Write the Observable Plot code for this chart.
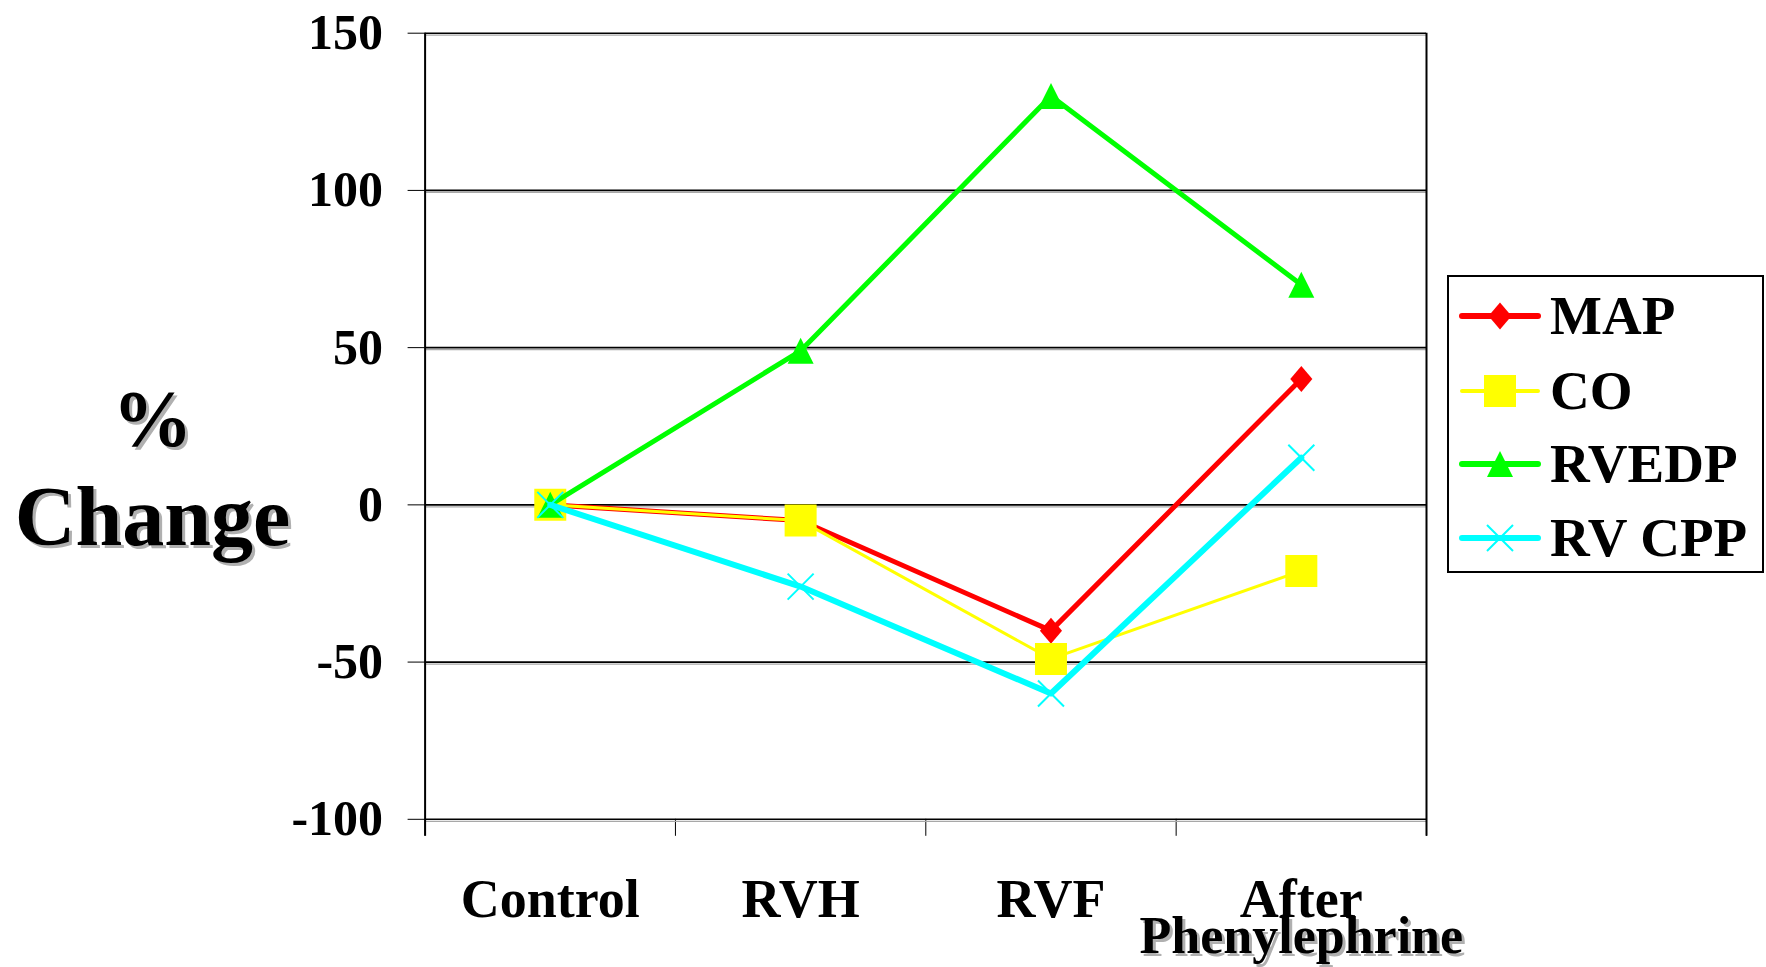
<!DOCTYPE html>
<html><head><meta charset="utf-8">
<script src="https://cdn.jsdelivr.net/npm/d3@7"></script>
<script src="https://cdn.jsdelivr.net/npm/@observablehq/plot@0.6"></script>
<style>
body{margin:0;background:#fff}
#wrap{position:relative;width:1766px;height:967px;overflow:hidden}
#legend{position:absolute;left:0;top:0}
</style>
</head><body><div id="wrap"></div>
<script>
// ---- data ----
const categories = ["Control", "RVH", "RVF", "After\nPhenylephrine"];
const seriesNames = ["MAP", "CO", "RVEDP", "RV CPP"];
const mapValues = [0, -5, -40, 40];
const coValues = [0, -5, -49, -21];
const rvedpValues = [0, 49, 130, 70];
const rvcppValues = [0, -26, -60, 15];
const yTickValues = [-100, -50, 0, 50, 100, 150];
const yLabelLines = ["%", "Change"];

// ---- styles ----
const seriesColors = ["#ff0000", "#ffff00", "#00ff00", "#00ffff"];
const lineWidths = [5, 3, 5, 6];
const FONT = "'Liberation Serif', 'Times New Roman', serif";

function rOf(size) { return Math.sqrt(size / Math.PI); }
const diamondSym = {draw(ctx, size) { const r = rOf(size), w = r * 0.85;
  ctx.moveTo(0, -r); ctx.lineTo(w, 0); ctx.lineTo(0, r); ctx.lineTo(-w, 0); ctx.closePath(); }};
const squareSym = {draw(ctx, size) { const r = rOf(size); ctx.rect(-r, -r, 2 * r, 2 * r); }};
const triSym = {draw(ctx, size) { const r = rOf(size);
  ctx.moveTo(0, -r); ctx.lineTo(r, r); ctx.lineTo(-r, r); ctx.closePath(); }};
const xSym = {draw(ctx, size) { const r = rOf(size);
  ctx.moveTo(-r, -r); ctx.lineTo(r, r); ctx.moveTo(r, -r); ctx.lineTo(-r, r); }};
const symbols = [diamondSym, squareSym, triSym, xSym];
const symR = [13, 16, 13, 13];
const symFilled = [true, true, true, false];

const seriesValues = [mapValues, coValues, rvedpValues, rvcppValues];
const rows = [];
seriesNames.forEach((s, k) => seriesValues[k].forEach((v, i) => rows.push({series: s, k, i, v})));

const W = 1766, H = 967;
const mL = 424.6, mR = W - 1426, mT = 32.7, mB = H - 818.8;
const frameMidY = (mT + H - mB) / 2;
const yLabelX = 152 - mL;

const marks = [
  Plot.ruleY(yTickValues, {stroke: "#a8a8a8", strokeWidth: 1.2, dy: 2}),
  Plot.ruleY(yTickValues, {stroke: "black", strokeWidth: 1.6}),
  Plot.ruleX([0, 4], {stroke: "black", strokeWidth: 2, insetBottom: -17}),
];
seriesNames.forEach((s, k) => {
  const d = rows.filter(r => r.k === k);
  marks.push(Plot.line(d, {x: r => r.i + 0.5, y: "v", stroke: seriesColors[k], strokeWidth: lineWidths[k], strokeLinejoin: "round"}));
  marks.push(Plot.dot(d, {x: r => r.i + 0.5, y: "v", r: symR[k], symbol: symbols[k],
    fill: symFilled[k] ? seriesColors[k] : "none", stroke: symFilled[k] ? "none" : seriesColors[k], strokeWidth: 2}));
});
// x category labels
const line1 = d => d.split("\n")[0];
const line2 = d => d.split("\n")[1] || "";
marks.push(
  Plot.text(categories, {x: (d, i) => i + 0.5, text: line1, frameAnchor: "bottom", dy: 98, lineAnchor: "bottom", fontSize: 54, fontWeight: "bold", fontFamily: FONT, fill: "black"}),
  Plot.text(categories, {x: (d, i) => i + 0.5, text: line2, frameAnchor: "bottom", dx: 3, dy: 137, lineAnchor: "bottom", fontSize: 52, fontWeight: "bold", fontFamily: FONT, fill: "#b0b0b0"}),
  Plot.text(categories, {x: (d, i) => i + 0.5, text: line2, frameAnchor: "bottom", dy: 134, lineAnchor: "bottom", fontSize: 52, fontWeight: "bold", fontFamily: FONT, fill: "black"})
);
// y label (two lines with shadow)
const yLabelDy = [445 - frameMidY, 544 - frameMidY];
const yLabelSize = [80, 84];
yLabelLines.forEach((t, j) => {
  marks.push(Plot.text([t], {text: d => d, frameAnchor: "left", dx: yLabelX + 3, dy: yLabelDy[j] + 3, textAnchor: "middle", lineAnchor: "bottom", fontSize: yLabelSize[j], fontWeight: "bold", fontFamily: FONT, fill: "#b0b0b0"}));
  marks.push(Plot.text([t], {text: d => d, frameAnchor: "left", dx: yLabelX, dy: yLabelDy[j], textAnchor: "middle", lineAnchor: "bottom", fontSize: yLabelSize[j], fontWeight: "bold", fontFamily: FONT, fill: "black"}));
});

const chart = Plot.plot({
  width: W, height: H,
  marginLeft: mL, marginRight: mR, marginTop: mT, marginBottom: mB,
  style: {fontFamily: FONT, fontSize: "50px", fontWeight: "bold", background: "white", color: "black", overflow: "visible"},
  x: {type: "linear", domain: [0, 4], ticks: [0, 1, 2, 3, 4], tickSize: 17, tickFormat: () => "", label: null},
  y: {domain: [-100, 150], ticks: yTickValues, tickSize: 17, tickPadding: 25, tickFormat: d => String(d), label: null},
  marks
});
document.getElementById("wrap").appendChild(chart);

// ---- legend ----
const lg = d3.select("#wrap").append("svg").attr("id", "legend").attr("width", W).attr("height", H)
  .style("pointer-events", "none");
const box = {x: 1448, y: 276, w: 315, h: 296};
lg.append("rect").attr("x", box.x).attr("y", box.y).attr("width", box.w).attr("height", box.h)
  .attr("fill", "white").attr("stroke", "black").attr("stroke-width", 2);
const rowY = [316, 391, 464, 538];
const legLineW = [6, 4, 6, 6];
const legR = [13.5, 16, 13, 13];
seriesNames.forEach((s, k) => {
  const g = lg.append("g").attr("transform", `translate(0,${rowY[k]})`);
  g.append("line").attr("x1", 1462).attr("x2", 1538).attr("y1", 0).attr("y2", 0)
    .attr("stroke", seriesColors[k]).attr("stroke-width", legLineW[k]).attr("stroke-linecap", "round");
  g.append("path").attr("transform", "translate(1500,0)")
    .attr("d", d3.symbol().type(symbols[k]).size(Math.PI * legR[k] * legR[k])())
    .attr("fill", symFilled[k] ? seriesColors[k] : "none")
    .attr("stroke", symFilled[k] ? "none" : seriesColors[k]).attr("stroke-width", 2);
  g.append("text").attr("x", 1550).attr("y", 18).text(s)
    .attr("font-family", FONT).attr("font-weight", "bold").attr("font-size", 55).attr("fill", "black");
});
</script>
</body></html>
